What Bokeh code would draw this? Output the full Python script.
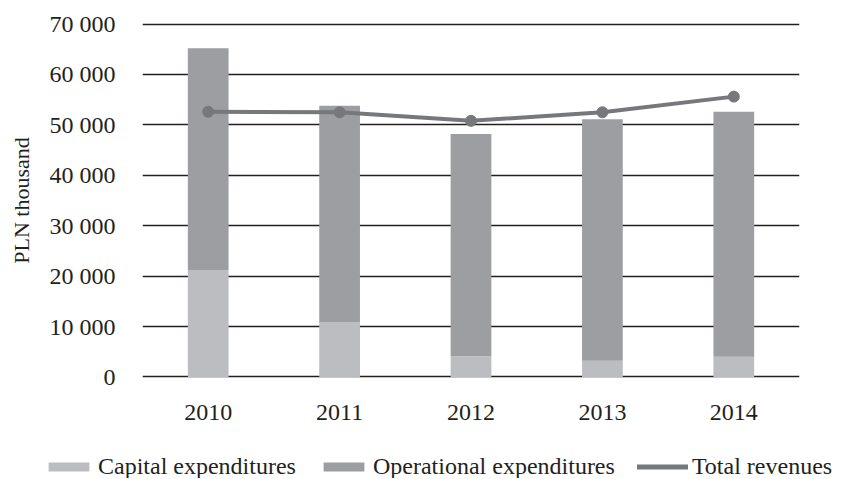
from bokeh.plotting import figure
from bokeh.layouts import column
from bokeh.models import FactorRange, Range1d, FixedTicker, Legend, LegendItem, ColumnDataSource
from bokeh.embed import file_html
from bokeh.resources import INLINE

years = ["2010", "2011", "2012", "2013", "2014"]
capital = [21200, 10800, 4100, 3200, 4000]
operational = [44000, 43000, 44100, 47900, 48600]
revenues = [52600, 52500, 50800, 52500, 55600]
y_tick_values = [0, 10000, 20000, 30000, 40000, 50000, 60000, 70000]
y_tick_labels = ["0", "10 000", "20 000", "30 000", "40 000", "50 000", "60 000", "70 000"]
series_names = ["Capital expenditures", "Operational expenditures", "Total revenues"]

FONT = "Liberation Serif"
TXT = "#231f20"
C_CAP = "#bcbdc0"
C_OPS = "#9d9ea2"
C_REV = "#77787b"

src = ColumnDataSource(dict(year=years, capital=capital, operational=operational, revenues=revenues))

p = figure(width=833, height=447, x_range=FactorRange(*years, range_padding=0),
           y_range=Range1d(-300, 70300), output_backend="svg", toolbar_location=None,
           min_border_left=142, min_border_right=34, min_border_top=22, min_border_bottom=69)
p.outline_line_color = None

p.vbar_stack(["capital", "operational"], x="year", width=0.31, source=src,
             color=[C_CAP, C_OPS], line_color=None)
p.line("year", "revenues", source=src, line_color=C_REV, line_width=4, line_cap="round")
p.scatter("year", "revenues", source=src, size=11, color=C_REV)

p.yaxis.ticker = FixedTicker(ticks=y_tick_values)
p.yaxis.major_label_overrides = {v: l for v, l in zip(y_tick_values, y_tick_labels)}
for ax in (p.xaxis[0], p.yaxis[0]):
    ax.axis_line_color = None
    ax.major_tick_line_color = None
    ax.minor_tick_line_color = None
    ax.major_label_text_font = FONT
    ax.major_label_text_font_size = "24px"
    ax.major_label_text_color = TXT
p.yaxis.major_label_standoff = 21
p.xaxis.major_label_standoff = 20
p.yaxis.axis_label = "PLN thousand"
p.yaxis.axis_label_text_font = FONT
p.yaxis.axis_label_text_font_size = "22px"
p.yaxis.axis_label_text_font_style = "normal"
p.yaxis.axis_label_text_color = TXT
p.yaxis.axis_label_standoff = 13

p.xgrid.grid_line_color = None
p.ygrid.grid_line_color = TXT
p.ygrid.grid_line_width = 1.6
p.ygrid.ticker = FixedTicker(ticks=y_tick_values)

# legend strip below the chart
q = figure(width=833, height=31, x_range=Range1d(0, 1), y_range=Range1d(0, 1),
           output_backend="svg", toolbar_location=None,
           min_border_left=0, min_border_right=0, min_border_top=0, min_border_bottom=0)
if "frame_align" in q.properties():
    q.frame_align = False
    p.frame_align = False
q.outline_line_color = None
q.axis.visible = False
q.grid.visible = False
nan = float("nan")
dummy = ColumnDataSource(dict(x=[nan, nan], y=[nan, nan]))
l_cap = q.vbar(x="x", top="y", width=0.1, source=dummy, color=C_CAP, line_color=None)
l_ops = q.vbar(x="x", top="y", width=0.1, source=dummy, color=C_OPS, line_color=None)
l_rev = q.line(x="x", y="y", source=dummy, line_color=C_REV, line_width=5, line_cap="round")

legend = Legend(items=[LegendItem(label=series_names[0], renderers=[l_cap]),
                       LegendItem(label=series_names[1], renderers=[l_ops]),
                       LegendItem(label=series_names[2], renderers=[l_rev])],
                orientation="horizontal", location=(43, -2),
                label_text_font=FONT, label_text_font_size="24px", label_text_color=TXT,
                glyph_width=51, glyph_height=11, label_standoff=4, spacing=22,
                border_line_color=None, background_fill_alpha=0, margin=0, padding=0)
q.add_layout(legend, "center")

layout = column(p, q, spacing=0)
open("out.html", "w").write(file_html(layout, INLINE))
